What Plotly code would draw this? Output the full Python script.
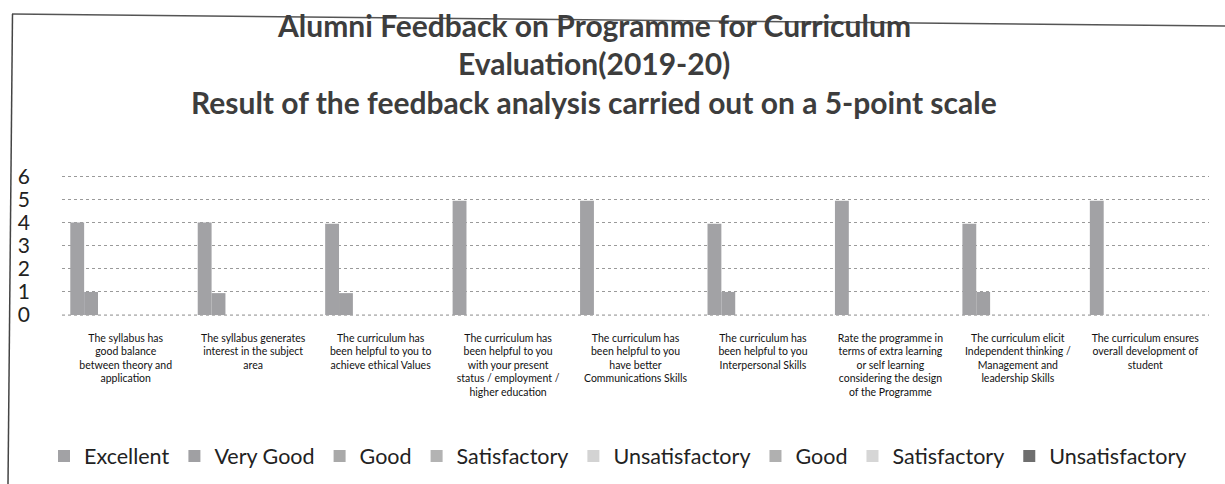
import plotly.graph_objects as go

categories = [
    "The syllabus has<br>good balance<br>between theory and<br>application",
    "The syllabus generates<br>interest in the subject<br>area",
    "The curriculum has<br>been helpful to you to<br>achieve ethical Values",
    "The curriculum has<br>been helpful to you<br>with your present<br>status / employment /<br>higher education",
    "The curriculum has<br>been helpful to you<br>have better<br>Communications Skills",
    "The curriculum has<br>been helpful to you<br>Interpersonal Skills",
    "Rate the programme in<br>terms of extra learning<br>or self learning<br>considering the design<br>of the Programme",
    "The curriculum elicit<br>Independent thinking /<br>Management and<br>leadership Skills",
    "The curriculum ensures<br>overall development of<br>student",
]

series_names = ["Excellent", "Very Good", "Good", "Satisfactory", "Unsatisfactory",
                "Good", "Satisfactory", "Unsatisfactory"]

excellent = [4.0, 4.0, 3.95, 4.95, 4.95, 3.95, 4.95, 3.95, 4.95]
very_good = [1.0, 0.95, 0.95, 0, 0, 1.0, 0, 1.0, 0]
good = [0] * 9
satisfactory = [0] * 9
unsatisfactory = [0] * 9
good2 = [0] * 9
satisfactory2 = [0] * 9
unsatisfactory2 = [0] * 9

series_values = [excellent, very_good, good, satisfactory, unsatisfactory,
                 good2, satisfactory2, unsatisfactory2]
series_colors = ["#a2a2a5", "#a0a0a3", "#a9a9a9", "#b3b3b3", "#d3d3d3",
                 "#b0b0b0", "#d6d6d6", "#6e6e6e"]

y_ticks = [0, 1, 2, 3, 4, 5, 6]

title_lines = [
    "Alumni Feedback on Programme for Curriculum",
    "Evaluation(2019-20)",
    "Result of the feedback analysis carried out on a 5-point scale",
]
title_centers_y = [25, 63, 102]

W, H = 1225, 484
ML, MR, MT, MB = 62, 16, 175, 168
PW = W - ML - MR
PH = H - MT - MB


def px(x):
    return (x - ML) / PW


def py(y):
    return (H - MB - y) / PH


fig = go.Figure()
for name, vals, col in zip(series_names, series_values, series_colors):
    fig.add_trace(go.Bar(
        x=categories, y=vals, name=name,
        marker=dict(color=col, line=dict(width=0)),
    ))

annotations = []
for txt, cy in zip(title_lines, title_centers_y):
    annotations.append(dict(
        text=txt, xref="paper", yref="paper", x=px(594), y=py(cy),
        xanchor="center", yanchor="middle", showarrow=False,
        font=dict(family="Lato, sans-serif", size=30, color="#3d3d3d", weight="bold"),
    ))

fig.update_layout(
    width=W, height=H,
    margin=dict(l=ML, r=MR, t=MT, b=MB, autoexpand=False),
    paper_bgcolor="white", plot_bgcolor="white",
    barmode="group", bargap=0.13, bargroupgap=0,
    font=dict(family="Lato, Noto Sans, sans-serif", color="#222"),
    annotations=annotations,
    showlegend=True,
    legend=dict(
        orientation="h", x=44 / W, xref="container", xanchor="left",
        y=1 - 456 / H, yref="container", yanchor="middle",
        font=dict(size=21.5, color="#222"), traceorder="normal",
    ),
    xaxis=dict(
        showgrid=False, showline=False, ticks="", automargin=False,
        tickfont=dict(size=10.5, color="#111"), tickangle=0,
        ticklabelstandoff=14,
    ),
    yaxis=dict(
        range=[-0.04, 6.06], tickvals=y_ticks, showline=False, zeroline=False,
        automargin=False,
        showgrid=True, gridcolor="#9a9a9a", griddash="dot", gridwidth=1,
        tickfont=dict(size=21, color="#222"), ticklabelstandoff=31,
    ),
    shapes=[
        dict(type="line", xref="paper", yref="y", x0=0, x1=1, y0=0, y1=0, layer="below",
             line=dict(color="#8a8a8a", width=1, dash="dot")),
        dict(type="line", xref="paper", yref="paper", x0=px(12), y0=py(14), x1=px(1225), y1=py(26),
             line=dict(color="#555", width=1.5)),
        dict(type="line", xref="paper", yref="paper", x0=px(12.5), y0=py(14), x1=px(8), y1=py(484),
             line=dict(color="#444", width=1.5)),
    ],
)

fig.write_html("out.html", config={"displayModeBar": False},
               post_script="document.body.style.margin='0';")
